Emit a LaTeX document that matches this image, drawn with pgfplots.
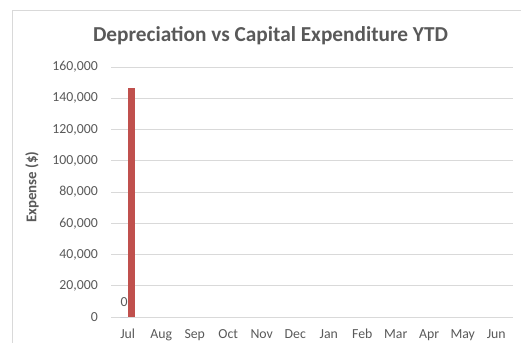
\documentclass[border=0pt]{standalone}
\usepackage{pgfplots}
\pgfplotsset{compat=1.18}
\usepackage{fontspec}
\setmainfont{Carlito}
\definecolor{txt}{HTML}{595959}
\definecolor{gridc}{HTML}{D9D9D9}
\definecolor{capred}{HTML}{C0504D}
\definecolor{depblue}{HTML}{4F81BD}
\begin{document}
\begin{tikzpicture}[x=1bp,y=1bp]
\useasboundingbox (0,0) rectangle (521,342);
\draw[gridc, line width=0.75bp] (12,-10) rectangle (540,332);
\node[txt, font=\fontsize{21.3bp}{25bp}\selectfont\bfseries, inner sep=0pt] at (270.5,306) {Depreciation vs Capital Expenditure YTD};
\node[txt, rotate=90, font=\fontsize{14.9bp}{17bp}\selectfont\bfseries, inner sep=0pt] at (32,155) {Expense (\$)};
\begin{axis}[
  at={(111bp,25bp)}, anchor=south west,
  width=402bp, height=250bp, scale only axis,
  ybar=0pt, bar width=7.5bp,
  xmin=-0.5, xmax=11.5, ymin=0, ymax=160000,
  xtick={0,...,11},
  xticklabels={Jul,Aug,Sep,Oct,Nov,Dec,Jan,Feb,Mar,Apr,May,Jun},
  ytick={0,20000,...,160000},
  scaled y ticks=false,
  /pgf/number format/fixed,
  /pgf/number format/1000 sep={,},
  /pgf/number format/assume math mode=true,
  ticklabel style={font=\fontsize{13.8bp}{16bp}\selectfont, text=txt, inner sep=0pt},
  yticklabel style={anchor=east, xshift=-13bp},
  xticklabel style={anchor=north, yshift=-12bp},
  major tick length=0pt,
  ymajorgrids, major grid style={gridc, line width=0.75bp},
  axis x line*=bottom, axis y line*=left,
  x axis line style={gridc, line width=0.75bp, -},
  y axis line style={draw=none},
  clip=false,
]
\addplot[fill=depblue, draw=none,
  nodes near coords,
  nodes near coords style={font=\fontsize{13.8bp}{16bp}\selectfont, text=txt, anchor=south, inner sep=0pt, yshift=10bp}]
  coordinates {(0,0)};
\addplot[fill=capred, draw=none] coordinates {(0,146500)};
\end{axis}
\end{tikzpicture}
\end{document}
